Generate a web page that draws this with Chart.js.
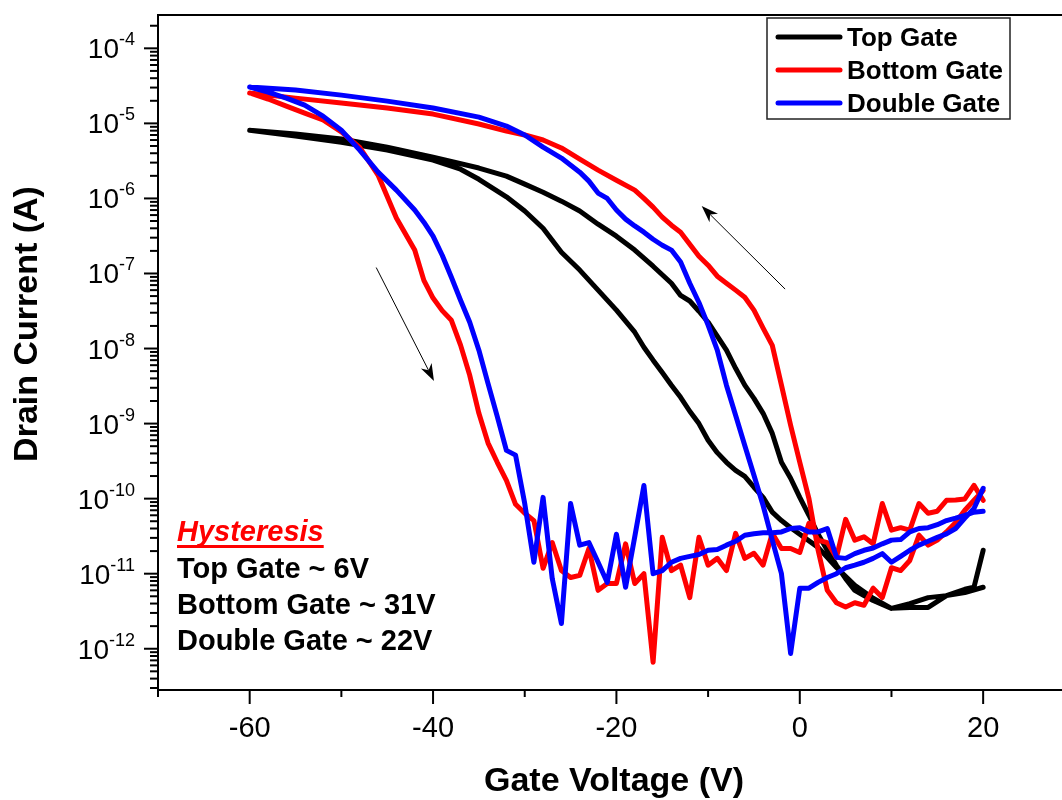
<!DOCTYPE html>
<html>
<head>
<meta charset="utf-8">
<title>Transfer curves</title>
<script src="https://cdn.jsdelivr.net/npm/chart.js@4.4.1/dist/chart.umd.min.js"></script>
<style>
  body { margin: 0; background: #ffffff; }
  #box { position: relative; width: 1062px; height: 800px; }
</style>
</head>
<body>
<div id="box"><canvas id="myChart"></canvas></div>
<script>
const FONT = '"Liberation Sans", Arial, Helvetica, sans-serif';

// gate voltage (V) for the sweep -60 -> 20 and back, drain current (A)
var topFwdV = [-60, -55, -50, -45, -40, -37, -35, -32, -30, -28, -26, -24, -22, -20, -18, -17, -16, -15, -14, -13, -12, -11, -10, -9, -8, -7, -6, -5, -4, -3, -2, -1, 0, 2, 4, 6, 8, 10, 12, 14, 16, 18, 20];
var topFwdI = [8.1e-6, 6.8e-6, 5.6e-6, 4.4e-6, 3.25e-6, 2.45e-6, 1.8e-6, 1.05e-6, 6.8e-7, 4.0e-7, 1.92e-7, 1.11e-7, 6.0e-8, 3.25e-8, 1.65e-8, 1.04e-8, 7.0e-9, 4.8e-9, 3.25e-9, 2.24e-9, 1.46e-9, 1.0e-9, 6.0e-10, 4.1e-10, 3.05e-10, 2.38e-10, 1.98e-10, 1.42e-10, 1.04e-10, 6.6e-11, 5.1e-11, 4.1e-11, 3.35e-11, 2.24e-11, 1.21e-11, 7.0e-12, 4.7e-12, 3.45e-12, 4.0e-12, 4.8e-12, 5.1e-12, 5.6e-12, 6.6e-12];
var topRevV = [20, 19, 18, 16, 14, 12, 10, 8, 7, 6, 5, 4, 3, 2, 1, 0, -1, -2, -3, -4, -5, -6, -7, -8, -9, -10, -11, -12, -13, -14, -16, -18, -20, -22, -24, -26, -28, -30, -32, -35, -40, -45, -50, -55, -60];
var topRevI = [2.05e-11, 6.6e-12, 6.2e-12, 5.1e-12, 3.55e-12, 3.55e-12, 3.45e-12, 4.4e-12, 5.1e-12, 6.0e-12, 8.6e-12, 1.29e-11, 2.05e-11, 3.35e-11, 6.0e-11, 1.04e-10, 1.87e-10, 3.05e-10, 7.4e-10, 1.37e-9, 2.17e-9, 3.25e-9, 5.45e-9, 9.5e-9, 1.46e-8, 2.24e-8, 3.14e-8, 4.3e-8, 5.1e-8, 7.4e-8, 1.25e-7, 2.05e-7, 3.14e-7, 4.54e-7, 6.8e-7, 9.2e-7, 1.21e-6, 1.55e-6, 1.98e-6, 2.54e-6, 3.55e-6, 4.83e-6, 6.2e-6, 7.2e-6, 8.1e-6];

var sweepUpV = [-60, -58, -56, -54, -52, -50, -48, -46, -44, -42, -41, -40, -39, -38, -37, -36, -35, -34, -33, -32, -31, -30, -29, -28, -27, -26, -25, -24, -23, -22, -21, -20, -19, -18, -17, -16, -15, -14, -13, -12, -11, -10, -9, -8, -7, -6, -5, -4, -3, -2, -1, 0, 1, 2, 3, 4, 5, 6, 7, 8, 9, 10, 11, 12, 13, 14, 15, 16, 17, 18, 19, 20];

var bottomFwdI = [2.54e-5, 2.11e-5, 1.70e-5, 1.37e-5, 1.11e-5, 7.7e-6, 4.8e-6, 2.05e-6, 5.5e-7, 2.05e-7, 8.1e-8, 4.7e-8,
  3.2e-8, 2.38e-8, 1.11e-8, 4.4e-9, 1.37e-9, 5.5e-10, 3.05e-10, 1.75e-10, 8.4e-11, 6.4e-11,
  5.1e-11, 1.18e-11, 2.6e-11, 1.1e-11, 8.9e-12, 9.5e-12, 2.17e-11, 6.0e-12, 7.4e-12, 7.4e-12,
  2.5e-11, 7.4e-12, 1.0e-11, 6.6e-13, 3.05e-11, 1.1e-11, 1.3e-11, 4.8e-12, 3.05e-11, 1.3e-11,
  1.6e-11, 1.1e-11, 3.45e-11, 1.6e-11, 1.87e-11, 1.3e-11, 3.45e-11, 2.17e-11, 2.17e-11, 1.92e-11,
  4.7e-11, 2.8e-11, 2.6e-11, 1.65e-11, 5.3e-11, 2.8e-11, 3.1e-11, 2.5e-11, 8.6e-11, 3.8e-11,
  4.1e-11, 3.8e-11, 8.6e-11, 6.4e-11, 6.8e-11, 9.5e-11, 9.6e-11, 9.9e-11, 1.5e-10, 9.5e-11];
var bottomRevV = [20, 19, 18, 17, 16, 15, 14, 13, 12, 11, 10, 9, 8, 7, 6, 5, 4, 3, 2, 1, 0, -1, -2, -3, -4, -5, -6, -7, -8, -9, -10, -11, -12, -13, -14, -15, -16, -17, -18, -20, -22, -24, -26, -28, -30, -32, -35, -40, -45, -50, -55, -60];
var bottomRevI = [1.28e-10, 9.5e-11, 7.0e-11, 4.8e-11, 3.6e-11, 2.8e-11, 2.4e-11, 3.25e-11, 1.5e-11, 1.1e-11,
  1.2e-11, 4.8e-12, 6.4e-12, 3.8e-12, 4.1e-12, 3.6e-12, 4.1e-12, 6.0e-12, 2.05e-11, 1.0e-10,
  3.05e-10, 9.5e-10, 3.25e-9, 1.1e-8, 1.87e-8, 3.25e-8, 4.83e-8, 6.0e-8, 7.4e-8, 9.2e-8,
  1.29e-7, 1.7e-7, 2.46e-7, 3.55e-7, 4.4e-7, 5.64e-7, 7.65e-7, 1.0e-6, 1.29e-6,
  1.75e-6, 2.38e-6, 3.34e-6, 4.7e-6, 6.0e-6, 7.0e-6, 7.9e-6, 9.8e-6, 1.33e-5, 1.6e-5, 1.87e-5, 2.17e-5, 2.54e-5];

var doubleFwdI = [3.05e-5, 2.61e-5, 2.17e-5, 1.75e-5, 1.25e-5, 8.1e-6, 4.4e-6, 2.24e-6, 1.29e-6, 7.0e-7, 4.83e-7, 3.14e-7,
  1.75e-7, 8.9e-8, 4.4e-8, 2.24e-8, 9.5e-9, 3.4e-9, 1.25e-9, 4.4e-10, 3.8e-10, 8.6e-11,
  1.42e-11, 1.04e-10, 8.6e-12, 2.17e-12, 8.6e-11, 2.4e-11, 2.6e-11, 1.42e-11, 7.65e-12, 3.35e-11,
  6.6e-12, 3.1e-11, 1.5e-10, 1.0e-11, 1.1e-11, 1.42e-11, 1.6e-11, 1.7e-11, 1.8e-11, 2.05e-11,
  2.1e-11, 2.4e-11, 2.7e-11, 3.25e-11, 3.4e-11, 3.5e-11, 3.5e-11, 3.6e-11, 4.0e-11, 4.1e-11,
  3.6e-11, 3.6e-11, 4.0e-11, 1.65e-11, 1.6e-11, 1.85e-11, 2.05e-11, 2.2e-11, 2.5e-11, 2.8e-11,
  2.85e-11, 3.6e-11, 4.0e-11, 4.1e-11, 4.5e-11, 5.1e-11, 5.5e-11, 6.0e-11, 6.6e-11, 6.8e-11];
var doubleRevV = [20, 19, 18, 17, 16, 15, 14, 13, 12, 11, 10, 9, 8, 7, 6, 5, 4, 3, 2, 1, 0, -1, -2, -3, -4, -5, -6, -7, -8, -9, -10, -11, -12, -13, -14, -15, -16, -17, -18, -19, -20, -21, -22, -23, -24, -26, -28, -30, -32, -35, -40, -45, -50, -55, -60];
var doubleRevI = [1.37e-10, 7.4e-11, 5.5e-11, 4.0e-11, 3.4e-11, 3.05e-11, 2.7e-11, 2.4e-11, 2.05e-11, 1.7e-11,
  1.42e-11, 1.85e-11, 1.6e-11, 1.42e-11, 1.3e-11, 1.2e-11, 1.0e-11, 8.9e-12, 7.65e-12, 6.4e-12,
  6.4e-12, 8.65e-13, 1.0e-11, 2.8e-11, 8.1e-11, 2.05e-10, 5.1e-10, 1.29e-9, 3.25e-9, 9.5e-9,
  2.05e-8, 4.1e-8, 7.4e-8, 1.42e-7, 2.05e-7, 2.38e-7, 2.86e-7, 3.55e-7, 4.3e-7, 5.3e-7,
  7.0e-7, 1.0e-6, 1.18e-6, 1.7e-6, 2.24e-6,
  3.45e-6, 4.83e-6, 7.0e-6, 9.2e-6, 1.21e-5, 1.6e-5, 1.98e-5, 2.38e-5, 2.78e-5, 3.05e-5];

var seriesNames = ["Top Gate", "Bottom Gate", "Double Gate"];
var seriesColors = ["#000000", "#ff0000", "#0000ff"];
var hysteresisLines = ["Top Gate ~ 6V", "Bottom Gate ~ 31V", "Double Gate ~ 22V"];

// axis ranges and tick positions
var xMin = -70, xMax = 28.6;
var yMin = 2.82e-13, yMax = 2.78e-4;
var xTicks = [-70, -60, -50, -40, -30, -20, -10, 0, 10, 20];
var yDecades = [-12, -11, -10, -9, -8, -7, -6, -5, -4];

// sweep direction arrows, [V, A] tail -> head
var arrowDown = [[-46.2, 1.2e-7], [-39.9, 3.7e-9]];
var arrowUp = [[-1.6, 6.2e-8], [-10.7, 7.9e-7]];

function sweep(fwdV, fwdI, revV, revI) {
  var pts = fwdV.map(function (v, k) { return { x: v, y: fwdI[k] }; });
  pts.push({ x: 20, y: null });
  return pts.concat(revV.map(function (v, k) { return { x: v, y: revI[k] }; }));
}

function line(ctx, x0, y0, x1, y1) {
  ctx.beginPath();
  ctx.moveTo(x0, y0);
  ctx.lineTo(x1, y1);
  ctx.stroke();
}

function drawArrow(ctx, xs, ys, a) {
  var x0 = xs.getPixelForValue(a[0][0]), y0 = ys.getPixelForValue(a[0][1]);
  var x1 = xs.getPixelForValue(a[1][0]), y1 = ys.getPixelForValue(a[1][1]);
  var ang = Math.atan2(y1 - y0, x1 - x0);
  var hl = 17, hw = 6;
  ctx.strokeStyle = "#000";
  ctx.lineWidth = 1;
  line(ctx, x0, y0, x1 - Math.cos(ang) * hl * 0.7, y1 - Math.sin(ang) * hl * 0.7);
  ctx.fillStyle = "#000";
  ctx.beginPath();
  ctx.moveTo(x1, y1);
  ctx.lineTo(x1 - Math.cos(ang) * hl - Math.sin(ang) * hw, y1 - Math.sin(ang) * hl + Math.cos(ang) * hw);
  ctx.lineTo(x1 - Math.cos(ang) * hl * 0.7, y1 - Math.sin(ang) * hl * 0.7);
  ctx.lineTo(x1 - Math.cos(ang) * hl + Math.sin(ang) * hw, y1 - Math.sin(ang) * hl - Math.cos(ang) * hw);
  ctx.closePath();
  ctx.fill();
}

const decorations = {
  id: "decorations",
  afterDraw(chart) {
    const ctx = chart.ctx;
    const xs = chart.scales.x, ys = chart.scales.y;
    const area = chart.chartArea;
    ctx.save();
    ctx.strokeStyle = "#000";
    ctx.lineWidth = 2;
    // top frame
    line(ctx, area.left - 1, area.top, area.right, area.top);

    // x ticks, long at labelled values
    xTicks.forEach(function (v) {
      const px = xs.getPixelForValue(v);
      line(ctx, px, area.bottom, px, area.bottom + (v % 20 === 0 ? 14 : 7));
    });

    // y ticks, log minors
    for (let n = -13; n <= -4; n++) {
      for (let m = 1; m < 10; m++) {
        const v = m * Math.pow(10, n);
        if (v < yMin || v > yMax) continue;
        const py = ys.getPixelForValue(v);
        line(ctx, area.left - (m === 1 ? 14 : 8), py, area.left, py);
      }
    }

    // y labels as 10 with superscript exponent
    ctx.fillStyle = "#000";
    ctx.textBaseline = "alphabetic";
    const rightEdge = area.left - 23;
    yDecades.forEach(function (n) {
      const py = ys.getPixelForValue(Math.pow(10, n));
      ctx.font = "18px " + FONT;
      const e = String(n);
      const w = ctx.measureText(e).width;
      ctx.textAlign = "left";
      ctx.fillText(e, rightEdge - w, py - 3);
      ctx.font = "28px " + FONT;
      ctx.textAlign = "right";
      ctx.fillText("10", rightEdge - w, py + 10);
    });

    // axis titles
    ctx.font = "bold 34px " + FONT;
    ctx.textAlign = "center";
    ctx.fillText("Gate Voltage (V)", 614, 791);
    ctx.save();
    ctx.translate(37, 324);
    ctx.rotate(-Math.PI / 2);
    ctx.fillText("Drain Current (A)", 0, 0);
    ctx.restore();

    // arrows
    drawArrow(ctx, xs, ys, arrowDown);
    drawArrow(ctx, xs, ys, arrowUp);

    // legend box
    ctx.strokeStyle = "#222";
    ctx.lineWidth = 1.5;
    ctx.strokeRect(767, 18, 243, 101);
    ctx.font = "bold 26px " + FONT;
    ctx.textAlign = "left";
    ctx.textBaseline = "middle";
    seriesNames.forEach(function (name, k) {
      const cy = 37 + k * 33;
      ctx.strokeStyle = seriesColors[k];
      ctx.lineWidth = 5;
      ctx.lineCap = "round";
      line(ctx, 778, cy, 840, cy);
      ctx.fillStyle = "#000";
      ctx.fillText(name, 847, cy + 2);
    });

    // hysteresis note
    ctx.textBaseline = "alphabetic";
    ctx.font = "italic bold 29px " + FONT;
    ctx.fillStyle = "#ff0000";
    ctx.fillText("Hysteresis", 177, 541);
    const hw = ctx.measureText("Hysteresis").width;
    ctx.fillRect(177, 545, hw, 3);
    ctx.fillStyle = "#000";
    ctx.font = "bold 29px " + FONT;
    hysteresisLines.forEach(function (t, k) {
      ctx.fillText(t, 177, 578 + k * 36);
    });
    ctx.restore();
  }
};

const myChart = new Chart(document.getElementById("myChart"), {
  type: "scatter",
  data: {
    datasets: [
      { label: seriesNames[0], data: sweep(topFwdV, topFwdI, topRevV, topRevI), borderColor: seriesColors[0], borderWidth: 5, order: 3 },
      { label: seriesNames[1], data: sweep(sweepUpV, bottomFwdI, bottomRevV, bottomRevI), borderColor: seriesColors[1], borderWidth: 5, order: 2 },
      { label: seriesNames[2], data: sweep(sweepUpV, doubleFwdI, doubleRevV, doubleRevI), borderColor: seriesColors[2], borderWidth: 5, order: 1 }
    ]
  },
  options: {
    responsive: true,
    maintainAspectRatio: false,
    animation: false,
    showLine: true,
    spanGaps: false,
    elements: {
      point: { radius: 0, hoverRadius: 0 },
      line: { borderWidth: 5, tension: 0, borderJoinStyle: "round", borderCapStyle: "round" }
    },
    layout: { padding: { top: 15, right: 0, bottom: 0, left: 0 } },
    plugins: { legend: { display: false }, tooltip: { enabled: false } },
    scales: {
      x: {
        type: "linear",
        min: xMin,
        max: xMax,
        afterBuildTicks: function (s) { s.ticks = xTicks.map(function (v) { return { value: v }; }); },
        afterFit: function (s) { s.height = 110; },
        grid: { display: false, drawTicks: false },
        border: { display: true, color: "#000", width: 2 },
        ticks: {
          color: "#000",
          font: { family: FONT, size: 29 },
          padding: 22,
          maxRotation: 0,
          autoSkip: false,
          callback: function (v) { return v % 20 === 0 ? String(v) : ""; }
        }
      },
      y: {
        type: "logarithmic",
        min: yMin,
        max: yMax,
        afterFit: function (s) { s.width = 158; },
        grid: { display: false, drawTicks: false },
        border: { display: true, color: "#000", width: 2 },
        ticks: { display: false }
      }
    }
  },
  plugins: [decorations]
});
</script>
</body>
</html>
